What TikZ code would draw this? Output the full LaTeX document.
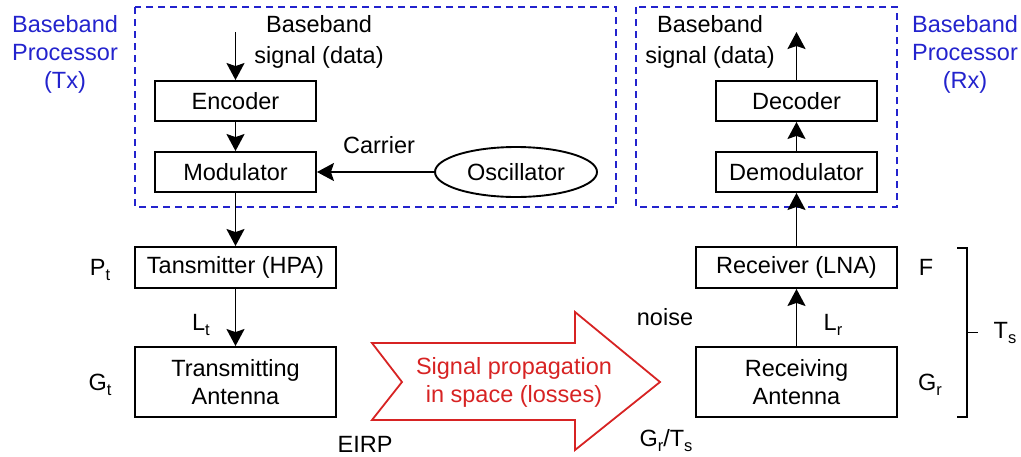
\documentclass[tikz,border=0pt]{standalone}
\usepackage{fontspec}
\setmainfont{Liberation Sans}
\usetikzlibrary{shapes.geometric,arrows.meta}
\definecolor{bblue}{RGB}{35,35,205}
\definecolor{rred}{RGB}{215,35,35}
\newcommand\subs[1]{\raisebox{-5.5pt}{\fontsize{16.5}{16.5}\selectfont #1}}
\begin{document}
\begin{tikzpicture}[x=1pt,y=-1pt,
  every node/.style={font=\fontsize{23.5}{28}\selectfont, inner sep=0pt},
  blk/.style={draw, line width=1.9pt, minimum width=161pt, minimum height=40pt, align=center},
  wblk/.style={blk, minimum width=201pt},
  arr/.style={line width=1.9pt, -{Stealth[length=17pt,width=18pt,inset=3pt]}},
  dbox/.style={draw=bblue, line width=1.9pt, dash pattern=on 7pt off 5pt},
  lbl/.style={anchor=base},
  blue lbl/.style={text=bblue, align=center},
]
\path[use as bounding box] (0,0) rectangle (1021,456);
% dashed processor boxes
\draw[dbox] (135,7) rectangle (616,207);
\draw[dbox] (636,7) rectangle (897,207);
% blue labels
\node[blue lbl] (ptx) at (65,54) {Baseband\\Processor\\(Tx)};
\node[blue lbl] (prx) at (965,54) {Baseband\\Processor\\(Rx)};
% Tx chain
\coordinate (tin) at (235.5,32);
\node[blk] (enc) at (235.5,101) {Encoder};
\node[blk] (mod) at (235.5,172) {Modulator};
\node[wblk, minimum height=41pt] (tx) at (235.5,267.5) {Tansmitter (HPA)};
\node[wblk, minimum height=70pt] (tant) at (235.5,382) {Transmitting\\Antenna};
\node[draw, ellipse, line width=1.9pt, minimum width=162pt, minimum height=50pt] (osc) at (516,172) {Oscillator};
\node[align=center, font=\fontsize{23.5}{31}\selectfont] (tsig) at (319,41.5) {Baseband\\signal (data)};
\node[lbl] (carrier) at (379,153) {Carrier};
\draw[arr] (tin) -- (enc);
\draw[arr] (enc) -- (mod);
\draw[arr] (osc) -- (mod);
\draw[arr] (mod) -- (tx);
\draw[arr] (tx) -- (tant);
\node[lbl] (pt) at (100,275) {P\subs{t}};
\node[lbl] (gt) at (100,390) {G\subs{t}};
\node[lbl] (lt) at (201,330) {L\subs{t}};
\node[lbl] (eirp) at (365,452) {EIRP};
% Rx chain
\coordinate (rout) at (796.5,32);
\node[blk] (dec) at (796.5,101) {Decoder};
\node[blk] (dem) at (796.5,172) {Demodulator};
\node[wblk, minimum height=41pt] (rx) at (796.5,267.5) {Receiver (LNA)};
\node[wblk, minimum height=70pt] (rant) at (796.5,382) {Receiving\\Antenna};
\node[align=center, font=\fontsize{23.5}{31}\selectfont] (rsig) at (710,41.5) {Baseband\\signal (data)};
\draw[arr] (rant) -- (rx);
\draw[arr] (rx) -- (dem);
\draw[arr] (dem) -- (dec);
\draw[arr] (dec) -- (rout);
\node[lbl] (lr) at (833,330) {L\subs{r}};
\node[lbl] (f) at (926,275) {F};
\node[lbl] (gr) at (930,390) {G\subs{r}};
\node[lbl] (noise) at (665,325) {noise};
\node[lbl] (grts) at (666,446) {G\subs{r}/T\subs{s}};
% bracket
\draw[line width=1.9pt] (957,248) -- (967,248) -- (967,417) -- (957,417);
\draw[line width=1.9pt] (967,332.5) -- (978,332.5);
\node[lbl] (ts) at (1005,338) {T\subs{s}};
% propagation arrow
\draw[rred, line width=1.8pt, line join=miter] (372,343) -- (575,343) -- (575,312) -- (660,382) -- (575,450) -- (575,420) -- (372,420) -- (402,382) -- cycle;
\node[text=rred, align=center] (prop) at (514,382.5) {Signal propagation\\in space (losses)};
\end{tikzpicture}
\end{document}
